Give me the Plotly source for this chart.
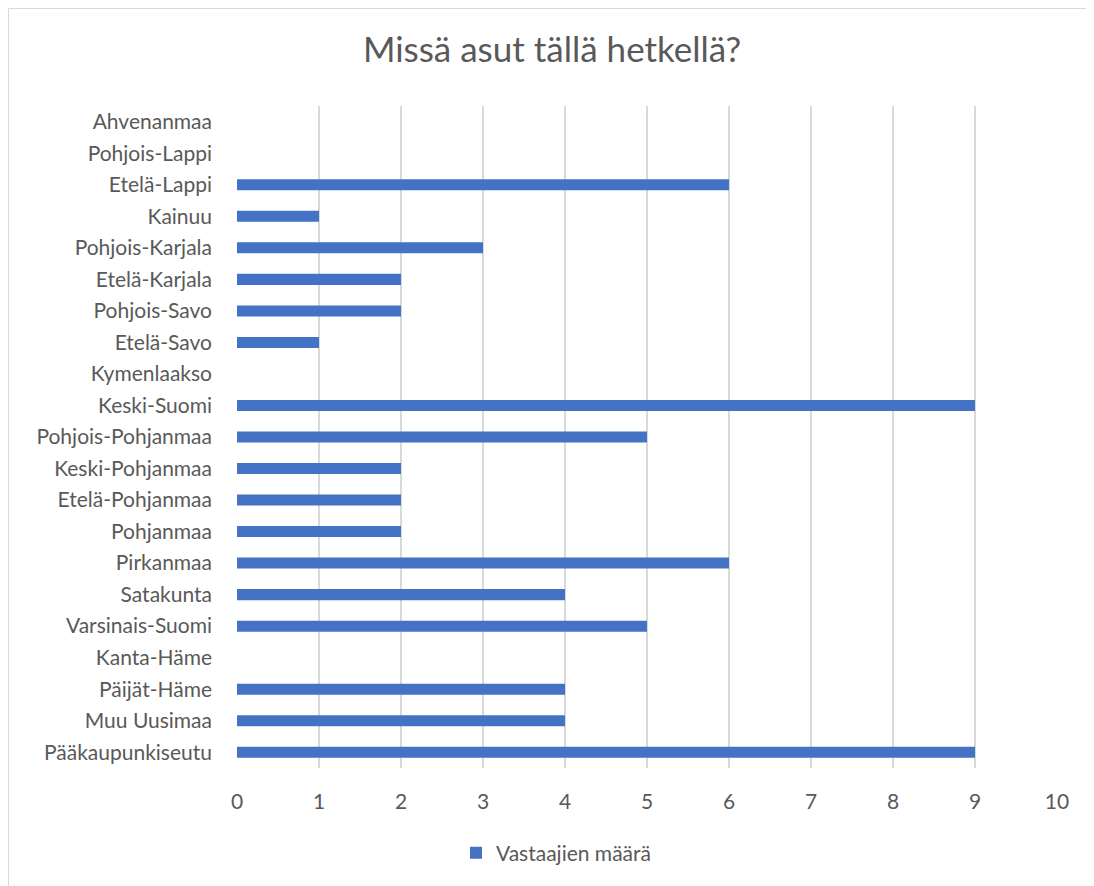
import plotly.graph_objects as go

# categories listed bottom -> top, as in the chart
regions = [
    "Pääkaupunkiseutu", "Muu Uusimaa", "Päijät-Häme", "Kanta-Häme",
    "Varsinais-Suomi", "Satakunta", "Pirkanmaa", "Pohjanmaa",
    "Etelä-Pohjanmaa", "Keski-Pohjanmaa", "Pohjois-Pohjanmaa", "Keski-Suomi",
    "Kymenlaakso", "Etelä-Savo", "Pohjois-Savo", "Etelä-Karjala",
    "Pohjois-Karjala", "Kainuu", "Etelä-Lappi", "Pohjois-Lappi", "Ahvenanmaa",
]
counts = [9, 4, 4, 0, 5, 4, 6, 2, 2, 2, 5, 9, 0, 1, 2, 2, 3, 1, 6, 0, 0]
x_ticks = list(range(0, 11))

text_color = "#595959"
font_family = "Lato, Open Sans, sans-serif"

# page body has an 8px margin, so the figure is drawn 8px smaller
W, H = 1086, 878
L, R, T, B = 229, 37, 98, 118
pw, ph = W - L - R, H - T - B

fig = go.Figure()
fig.add_trace(go.Bar(
    y=regions,
    x=counts,
    orientation="h",
    name="Vastaajien määrä",
    marker_color="#4472C4",
    marker_line_width=0,
))

fig.update_layout(
    width=W,
    height=H,
    margin=dict(l=L, r=R, t=T, b=B),
    paper_bgcolor="white",
    plot_bgcolor="white",
    font=dict(family=font_family, color=text_color, size=21),
    title=dict(
        text="Missä asut tällä hetkellä?",
        font=dict(size=35, color=text_color, family=font_family),
        x=(552 - 8) / W, xref="container", xanchor="center",
        y=1 - (50 - 8) / H, yref="container", yanchor="middle",
    ),
    bargap=0.65,
    showlegend=True,
    legend=dict(
        orientation="h",
        x=(556 - 237) / pw, xanchor="center",
        y=-(853 - 768) / ph, yanchor="middle",
        font=dict(size=21, color=text_color),
    ),
    xaxis=dict(
        range=[0, 10],
        tickvals=x_ticks,
        showgrid=True,
        gridcolor="#d9d9d9",
        gridwidth=1.5,
        zeroline=False,
        showline=False,
        ticklabelstandoff=19,
        fixedrange=True,
    ),
    yaxis=dict(
        categoryorder="array",
        categoryarray=regions,
        showgrid=False,
        zeroline=False,
        showline=False,
        ticklabelstandoff=24,
        fixedrange=True,
    ),
    shapes=[dict(
        type="rect", xref="paper", yref="paper",
        x0=(0.5 - L) / pw, x1=(W + 10 - L) / pw,
        y0=-(B + 10) / ph, y1=1 + (T - 0.5) / ph,
        line=dict(color="#d9d9d9", width=1),
        layer="below",
    )],
)

fig.write_html("out.html")
